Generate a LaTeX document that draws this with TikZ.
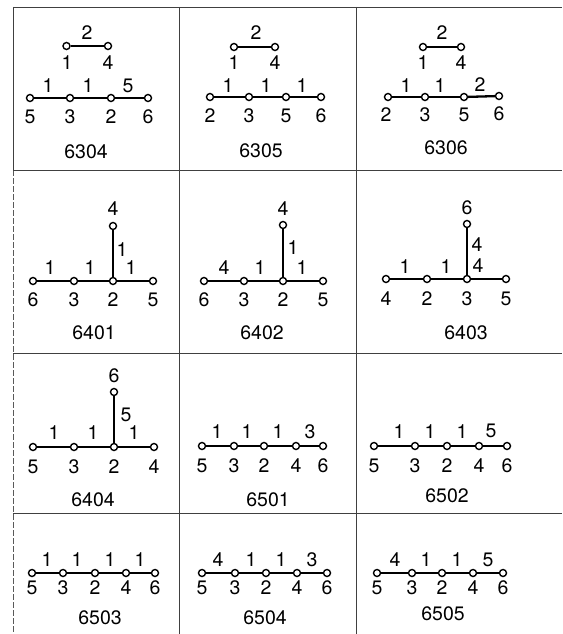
\documentclass[tikz,border=0pt]{standalone}
\usepackage{fontspec}
\setmainfont{TeX Gyre Heros}
\begin{document}
\begin{tikzpicture}[x=1pt,y=-1pt,
  v/.style={circle,draw,fill=white,inner sep=0pt,minimum size=7pt,line width=1.4pt},
  lab/.style={inner sep=0pt,font=\fontsize{19.5}{21}\selectfont},
  captxt/.style={inner sep=0pt,font=\fontsize{19.5}{21}\selectfont},
  ed/.style={line width=2.3pt},
  gridline/.style={line width=0.9pt,black!75},
  gridlined/.style={line width=0.9pt,black!65,dash pattern=on 6pt off 2pt}]
\useasboundingbox (0,0) rectangle (562,634);
% grid
\coordinate (tl) at (13,7);
\coordinate (tr) at (562,7);
\coordinate (ml) at (13,170);
\coordinate (bl) at (13,634);
\draw[gridline] (tl) -- (tr);
\draw[gridline] (tl) -- (ml);
\draw[gridlined] (ml) -- (bl);
\coordinate (c1t) at (179,7); \coordinate (c1b) at (179,634);
\coordinate (c2t) at (356,7); \coordinate (c2b) at (356,634);
\draw[gridline] (c1t) -- (c1b);
\draw[gridline] (c2t) -- (c2b);
\coordinate (r1l) at (13,170); \coordinate (r1r) at (562,170);
\coordinate (r2l) at (13,353); \coordinate (r2r) at (562,353);
\coordinate (r3l) at (13,513); \coordinate (r3r) at (562,513);
\draw[gridline] (r1l) -- (r1r);
\draw[gridline] (r2l) -- (r2r);
\draw[gridline] (r3l) -- (r3r);

% ---------- 6304 ----------
\node[v] (A1) at (66.5,46) {}; \node[v] (A4) at (108,46) {};
\node[v] (A5) at (30,98) {}; \node[v] (A3) at (70,98) {};
\node[v] (A2) at (111,98) {}; \node[v] (A6) at (148,98) {};
\draw[ed] (A1) -- (A4);
\draw[ed] (A5) -- (A3); \draw[ed] (A3) -- (A2); \draw[ed] (A2) -- (A6);
\node[lab] (At) at (87,33) {2};
\node[lab] (Au1) at (67,63) {1}; \node[lab] (Au4) at (108,63) {4};
\node[lab] (Ae1) at (48,86) {1}; \node[lab] (Ae2) at (88,86) {1}; \node[lab] (Ae3) at (128,86) {5};
\node[lab] (Ab1) at (30,117) {5}; \node[lab] (Ab2) at (70,117) {3};
\node[lab] (Ab3) at (111,117) {2}; \node[lab] (Ab4) at (148,117) {6};
\node[captxt] (Ac) at (86,152) {6304};

% ---------- 6305 ----------
\node[v] (B1) at (234,47) {}; \node[v] (B4) at (275,47) {};
\node[v] (B2) at (210,97) {}; \node[v] (B3) at (249,97) {};
\node[v] (B5) at (286,97) {}; \node[v] (B6) at (321,97) {};
\draw[ed] (B1) -- (B4);
\draw[ed] (B2) -- (B3); \draw[ed] (B3) -- (B5); \draw[ed] (B5) -- (B6);
\node[lab] (Bt) at (256,33) {2};
\node[lab] (Bu1) at (234,63) {1}; \node[lab] (Bu4) at (275,63) {4};
\node[lab] (Be1) at (228,86) {1}; \node[lab] (Be2) at (266,86) {1}; \node[lab] (Be3) at (302,86) {1};
\node[lab] (Bb1) at (210,116) {2}; \node[lab] (Bb2) at (249,116) {3};
\node[lab] (Bb3) at (286,116) {5}; \node[lab] (Bb4) at (321,116) {6};
\node[captxt] (Bc) at (261,151) {6305};

% ---------- 6306 ----------
\node[v] (C1) at (423,47) {}; \node[v] (C4) at (461,47) {};
\node[v] (C2) at (388,97) {}; \node[v] (C3) at (425,97) {};
\node[v] (C5) at (464,97) {}; \node[v] (C6) at (499,96) {};
\draw[ed] (C1) -- (C4);
\draw[ed] (C2) -- (C3); \draw[ed] (C3) -- (C5); \draw[ed] (C5) -- (C6);
\node[lab] (Ct) at (442,33) {2};
\node[lab] (Cu1) at (423,63) {1}; \node[lab] (Cu4) at (461,63) {4};
\node[lab] (Ce1) at (406,86) {1}; \node[lab] (Ce2) at (440,86) {1}; \node[lab] (Ce3) at (480,85) {2};
\node[lab] (Cb1) at (386,115) {2}; \node[lab] (Cb2) at (425,115) {3};
\node[lab] (Cb3) at (464,115) {5}; \node[lab] (Cb4) at (499,114) {6};
\node[captxt] (Cc) at (446,148) {6306};

% ---------- 6401 ----------
\node[v] (D6) at (33,281) {}; \node[v] (D3) at (74,281) {};
\node[v] (D2) at (113,281) {}; \node[v] (D5) at (153,281) {};
\node[v] (D4) at (113,226) {};
\draw[ed] (D6) -- (D3); \draw[ed] (D3) -- (D2); \draw[ed] (D2) -- (D5); \draw[ed] (D2) -- (D4);
\node[lab] (Dt) at (113,209) {4};
\node[lab] (Dv) at (122,250) {1};
\node[lab] (De1) at (50,268) {1}; \node[lab] (De2) at (90,268) {1}; \node[lab] (De3) at (131,268) {1};
\node[lab] (Db1) at (33,300) {6}; \node[lab] (Db2) at (74,300) {3};
\node[lab] (Db3) at (113,300) {2}; \node[lab] (Db4) at (153,300) {5};
\node[captxt] (Dc) at (94,333) {6401};

% ---------- 6402 ----------
\node[v] (E6) at (204,281) {}; \node[v] (E3) at (244,281) {};
\node[v] (E2) at (283,281) {}; \node[v] (E5) at (323,281) {};
\node[v] (E4) at (283,225) {};
\draw[ed] (E6) -- (E3); \draw[ed] (E3) -- (E2); \draw[ed] (E2) -- (E5); \draw[ed] (E2) -- (E4);
\node[lab] (Et) at (283,209) {4};
\node[lab] (Ev) at (293,248) {1};
\node[lab] (Ee1) at (224,268) {4}; \node[lab] (Ee2) at (260,268) {1}; \node[lab] (Ee3) at (302,268) {1};
\node[lab] (Eb1) at (204,300) {6}; \node[lab] (Eb2) at (244,300) {3};
\node[lab] (Eb3) at (283,300) {2}; \node[lab] (Eb4) at (323,300) {5};
\node[captxt] (Ec) at (262,333) {6402};

% ---------- 6403 ----------
\node[v] (F4) at (386,279) {}; \node[v] (F2) at (427,279) {};
\node[v] (F3) at (467,279) {}; \node[v] (F5) at (506,279) {};
\node[v] (F6) at (467,224) {};
\draw[ed] (F4) -- (F2); \draw[ed] (F2) -- (F3); \draw[ed] (F3) -- (F5); \draw[ed] (F3) -- (F6);
\node[lab] (Ft) at (467,208) {6};
\node[lab] (Fv) at (477,245) {4};
\node[lab] (Fe1) at (405,267) {1}; \node[lab] (Fe2) at (446,267) {1}; \node[lab] (Fe3) at (478,266) {4};
\node[lab] (Fb1) at (386,299) {4}; \node[lab] (Fb2) at (427,299) {2};
\node[lab] (Fb3) at (467,299) {3}; \node[lab] (Fb4) at (506,299) {5};
\node[captxt] (Fc) at (466,333) {6403};

% ---------- 6404 ----------
\node[v] (G5) at (33,447) {}; \node[v] (G3) at (74,447) {};
\node[v] (G2) at (114,447) {}; \node[v] (G4) at (154,447) {};
\node[v] (G6) at (114,392) {};
\draw[ed] (G5) -- (G3); \draw[ed] (G3) -- (G2); \draw[ed] (G2) -- (G4); \draw[ed] (G2) -- (G6);
\node[lab] (Gt) at (114,376) {6};
\node[lab] (Gv) at (126,415) {5};
\node[lab] (Ge1) at (54,433) {1}; \node[lab] (Ge2) at (93,433) {1}; \node[lab] (Ge3) at (134,433) {1};
\node[lab] (Gb1) at (33,467) {5}; \node[lab] (Gb2) at (74,467) {3};
\node[lab] (Gb3) at (114,467) {2}; \node[lab] (Gb4) at (154,467) {4};
\node[captxt] (Gc) at (93,500) {6404};

% ---------- 6501 ----------
\node[v] (H5) at (202,446) {}; \node[v] (H3) at (234,446) {};
\node[v] (H2) at (264,446) {}; \node[v] (H4) at (296,446) {};
\node[v] (H6) at (323,446) {};
\draw[ed] (H5) -- (H3); \draw[ed] (H3) -- (H2); \draw[ed] (H2) -- (H4); \draw[ed] (H4) -- (H6);
\node[lab] (He1) at (217,432) {1}; \node[lab] (He2) at (247,432) {1};
\node[lab] (He3) at (278,432) {1}; \node[lab] (He4) at (310,432) {3};
\node[lab] (Hb1) at (202,466) {5}; \node[lab] (Hb2) at (234,466) {3};
\node[lab] (Hb3) at (264,466) {2}; \node[lab] (Hb4) at (296,466) {4};
\node[lab] (Hb5) at (323,466) {6};
\node[captxt] (Hc) at (268,500) {6501};

% ---------- 6502 ----------
\node[v] (I5) at (374,446) {}; \node[v] (I3) at (415,446) {};
\node[v] (I2) at (447,446) {}; \node[v] (I4) at (479,446) {};
\node[v] (I6) at (507,446) {};
\draw[ed] (I5) -- (I3); \draw[ed] (I3) -- (I2); \draw[ed] (I2) -- (I4); \draw[ed] (I4) -- (I6);
\node[lab] (Ie1) at (399,432) {1}; \node[lab] (Ie2) at (430,432) {1};
\node[lab] (Ie3) at (462,432) {1}; \node[lab] (Ie4) at (491,431) {5};
\node[lab] (Ib1) at (374,466) {5}; \node[lab] (Ib2) at (415,466) {3};
\node[lab] (Ib3) at (447,466) {2}; \node[lab] (Ib4) at (479,466) {4};
\node[lab] (Ib5) at (507,466) {6};
\node[captxt] (Ic) at (447,496) {6502};

% ---------- 6503 ----------
\node[v] (J5) at (32,573) {}; \node[v] (J3) at (63,573) {};
\node[v] (J2) at (95,573) {}; \node[v] (J4) at (126,573) {};
\node[v] (J6) at (155,573) {};
\draw[ed] (J5) -- (J3); \draw[ed] (J3) -- (J2); \draw[ed] (J2) -- (J4); \draw[ed] (J4) -- (J6);
\node[lab] (Je1) at (47,560) {1}; \node[lab] (Je2) at (77,560) {1};
\node[lab] (Je3) at (110,560) {1}; \node[lab] (Je4) at (140,560) {1};
\node[lab] (Jb1) at (32,588) {5}; \node[lab] (Jb2) at (63,588) {3};
\node[lab] (Jb3) at (95,588) {2}; \node[lab] (Jb4) at (126,588) {4};
\node[lab] (Jb5) at (155,588) {6};
\node[captxt] (Jc) at (100,618) {6503};

% ---------- 6504 ----------
\node[v] (K5) at (202,573) {}; \node[v] (K3) at (235,573) {};
\node[v] (K2) at (266,573) {}; \node[v] (K4) at (297,573) {};
\node[v] (K6) at (327,573) {};
\draw[ed] (K5) -- (K3); \draw[ed] (K3) -- (K2); \draw[ed] (K2) -- (K4); \draw[ed] (K4) -- (K6);
\node[lab] (Ke1) at (218,560) {4}; \node[lab] (Ke2) at (251,560) {1};
\node[lab] (Ke3) at (281,560) {1}; \node[lab] (Ke4) at (312,560) {3};
\node[lab] (Kb1) at (202,588) {5}; \node[lab] (Kb2) at (235,588) {3};
\node[lab] (Kb3) at (266,588) {2}; \node[lab] (Kb4) at (297,588) {4};
\node[lab] (Kb5) at (327,588) {6};
\node[captxt] (Kc) at (265,618) {6504};

% ---------- 6505 ----------
\node[v] (L5) at (377,573) {}; \node[v] (L3) at (412,573) {};
\node[v] (L2) at (442,573) {}; \node[v] (L4) at (473,573) {};
\node[v] (L6) at (503,573) {};
\draw[ed] (L5) -- (L3); \draw[ed] (L3) -- (L2); \draw[ed] (L2) -- (L4); \draw[ed] (L4) -- (L6);
\node[lab] (Le1) at (395,560) {4}; \node[lab] (Le2) at (426,560) {1};
\node[lab] (Le3) at (457,560) {1}; \node[lab] (Le4) at (488,560) {5};
\node[lab] (Lb1) at (377,588) {5}; \node[lab] (Lb2) at (412,588) {3};
\node[lab] (Lb3) at (442,588) {2}; \node[lab] (Lb4) at (473,588) {4};
\node[lab] (Lb5) at (503,588) {6};
\node[captxt] (Lc) at (443,614) {6505};
\end{tikzpicture}
\end{document}
